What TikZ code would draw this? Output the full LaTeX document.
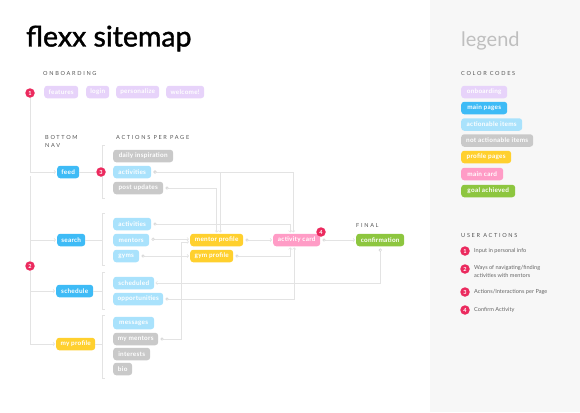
\documentclass[tikz,border=0pt]{standalone}
\usepackage{fontspec}
\setmainfont{Lato}
\newfontfamily\headfont[LetterSpace=30]{Lato}
\newfontfamily\boxfont[LetterSpace=4]{Lato}
\newfontfamily\titlefont[FakeBold=1.3]{Lato}
\usetikzlibrary{arrows.meta}

\definecolor{cOnb}{HTML}{E7D3FA}
\definecolor{cMain}{HTML}{3EBBF6}
\definecolor{cAct}{HTML}{A9E2FC}
\definecolor{cNot}{HTML}{C9C9C9}
\definecolor{cProf}{HTML}{FFD02E}
\definecolor{cCard}{HTML}{FF9CC6}
\definecolor{cGoal}{HTML}{8DC63F}
\definecolor{cBadge}{HTML}{EB2A5E}
\definecolor{cLine}{HTML}{E3E3E3}
\definecolor{cDot}{HTML}{CFCFCF}
\definecolor{cPanel}{HTML}{F7F7F7}
\definecolor{cHead}{HTML}{555555}
\definecolor{cNote}{HTML}{666666}

\tikzset{
  box/.style={rounded corners=3pt, minimum height=12.5pt, inner xsep=2pt, inner ysep=0pt,
    text=white, font=\boxfont\bfseries\fontsize{6.4}{7}\selectfont, anchor=west},
  onb/.style={box, fill=cOnb},
  mainp/.style={box, fill=cMain},
  act/.style={box, fill=cAct},
  nact/.style={box, fill=cNot},
  prof/.style={box, fill=cProf},
  cardbox/.style={box, fill=cCard},
  goal/.style={box, fill=cGoal},
  badge/.style={circle, fill=cBadge, minimum size=9.5pt, inner sep=0pt, text=white,
    font=\bfseries\fontsize{5.6}{6}\selectfont},
  head/.style={anchor=west, text=cHead, font=\headfont\fontsize{5.6}{8}\selectfont,
    align=left, inner sep=0pt},
  note/.style={anchor=west, text=cNote, font=\fontsize{5.6}{7.4}\selectfont,
    align=left, inner sep=0pt},
  wire/.style={draw=cLine, line width=0.6pt},
  arr/.style={wire, -{Straight Barb[length=1.6pt,width=3.4pt]}, shorten >=1pt},
  link/.style={wire, {Circle[length=3.2pt,fill=white,color=cDot,line width=0.5pt]}-{Straight Barb[length=1.6pt,width=3.4pt]},
    shorten <=2pt, shorten >=1pt},
}

\begin{document}
\begin{tikzpicture}[x=1pt,y=-1pt]
\path[use as bounding box] (0,0) rectangle (580,412);
\fill[cPanel] (430,0) rectangle (580,412);

% titles
\node[anchor=base west, inner sep=0pt, font=\titlefont\fontsize{28.5}{31}\selectfont] (title) at (26,46.5) {flexx sitemap};
\node[anchor=base west, inner sep=0pt, text=black!25, font=\fontsize{20}{24}\selectfont] (legendtitle) at (461,46) {legend};

% section headings
\node[head] (hOnb) at (43,73) {ONBOARDING};
\node[head] (hNav) at (45,141) {BOTTOM\\NAV};
\node[head] (hAct) at (116,137) {ACTIONS PER PAGE};
\node[head] (hFin) at (356,225) {FINAL};
\node[head] (hCol) at (461,73) {COLOR CODES};
\node[head] (hUsr) at (461,235) {USER ACTIONS};

% onboarding flow
\node[onb, minimum width=34] (features) at (44,92) {features};
\node[onb, minimum width=23] (login) at (86,92) {login};
\node[onb, minimum width=43] (personalize) at (116,92) {personalize};
\node[onb, minimum width=38] (welcome) at (166,92) {welcome!};

% bottom navigation
\node[mainp, minimum width=22] (feed) at (57,172) {feed};
\node[mainp, minimum width=28] (search) at (57,240) {search};
\node[mainp, minimum width=37] (schedule) at (56,291) {schedule};
\node[prof, minimum width=39] (myprof) at (56,344) {my profile};

% actions per page
\node[nact, minimum width=60] (fdaily) at (113,156) {daily inspiration};
\node[act, minimum width=38] (fact) at (113,172) {activities};
\node[nact, minimum width=50] (fpost) at (113,188) {post updates};
\node[act, minimum width=38] (sact) at (113,224) {activities};
\node[act, minimum width=36] (smen) at (113,240) {mentors};
\node[act, minimum width=26] (sgym) at (113,256) {gyms};
\node[act, minimum width=41] (ssch) at (113,283) {scheduled};
\node[act, minimum width=50] (sopp) at (113,299) {opportunities};
\node[act, minimum width=41] (pmsg) at (113,323) {messages};
\node[nact, minimum width=45] (pmen) at (113,339) {my mentors};
\node[nact, minimum width=37] (pint) at (113,354) {interests};
\node[nact, minimum width=19] (pbio) at (113,369) {bio};

% detail pages
\node[prof, minimum width=53] (mentorprof) at (190,240) {mentor profile};
\node[prof, minimum width=43] (gymprof) at (190,256) {gym profile};
\node[cardbox, minimum width=47] (card) at (273,240) {activity card};
\node[goal, minimum width=48] (confirm) at (356,240) {confirmation};

% numbered markers
\node[badge] (b1) at (30,93) {1};
\node[badge] (b2) at (30,266) {2};
\coordinate (t2) at (30,176);

% trunk to the bottom navigation
\draw[arr] (b1.south) |- (feed.west);
\draw[wire] (t2) -- (b2.north);
\draw[arr] (t2) |- (search.west);
\draw[arr] (b2.south) |- (schedule.west);
\draw[arr] (b2.south) |- (myprof.west);

% brackets grouping the actions of each page
\coordinate (kx) at (102,0);
\draw[wire] (105,145) -- (102,145) -- (102,198) -- (105,198);
\draw[wire] (105,213) -- (102,213) -- (102,265) -- (105,265);
\draw[wire] (105,272) -- (102,272) -- (102,309) -- (105,309);
\draw[wire] (105,315) -- (102,315) -- (102,378) -- (105,378);
\draw[wire] (search.east) -- (search.east -| kx);
\draw[wire] (schedule.east) -- (schedule.east -| kx);
\draw[wire] (myprof.east) -- (myprof.east -| kx);
\node[badge] (b3) at (101,172) {3};
\draw[wire] (feed.east) -- (b3.west);

% links between pages
\draw[link] (fact.east) -| ([xshift=-3.5pt]card.north);
\draw[link] (fact.east) -| ([xshift=3.5pt]mentorprof.north);
\draw[link] (fpost.east) -| (mentorprof.north);
\draw[link] (sact.east) -| ([xshift=-6.5pt]card.north);
\draw[link] ([yshift=0.8pt]smen.east) -- ([yshift=0.8pt]mentorprof.west);
\draw[link] (pmen.east) -| ([xshift=-8.3pt,yshift=-1.8pt]mentorprof.west) -- ([yshift=-1.8pt]mentorprof.west);
\draw[link] (sgym.east) -- (gymprof.west);
\draw[link] (mentorprof.east) -- (card.west);
\draw[link] (gymprof.east) -| ([xshift=-6.5pt]card.south);
\draw[link] (sopp.east) -| ([xshift=-2.5pt]card.south);
\draw[link] (card.east) -- (confirm.west);
\draw[link] (confirm.south) |- (ssch.east);
\node[badge] (b4) at (321,232) {4};

% legend: colour codes
\node[onb, minimum width=46] (lgOnb) at (461,92) {onboarding};
\node[mainp, minimum width=46] (lgMain) at (461,108) {main pages};
\node[act, minimum width=61] (lgAct) at (461,124.5) {actionable items};
\node[nact, minimum width=72] (lgNot) at (461,140.5) {not actionable items};
\node[prof, minimum width=50] (lgProf) at (461,157) {profile pages};
\node[cardbox, minimum width=42] (lgCard) at (461,174) {main card};
\node[goal, minimum width=54] (lgGoal) at (461,191) {goal achieved};

% legend: user actions
\node[badge] (u1) at (465,251) {1};
\node[badge] (u2) at (465,269) {2};
\node[badge] (u3) at (465,292) {3};
\node[badge] (u4) at (465,310) {4};
\node[note] (n1) at (474,251) {Input in personal info};
\node[note, anchor=north west] (n2) at (474,265.3) {Ways of navigating/finding\\activities with mentors};
\node[note] (n3) at (474,292) {Actions/Interactions per Page};
\node[note] (n4) at (474,310) {Confirm Activity};
\end{tikzpicture}
\end{document}
